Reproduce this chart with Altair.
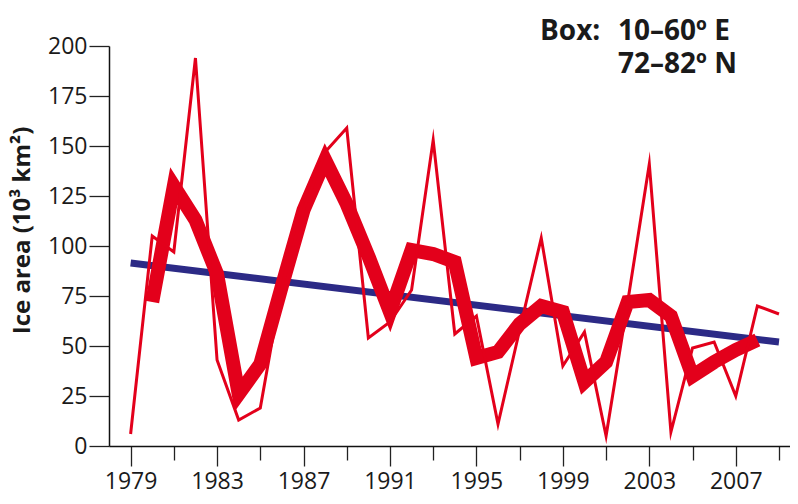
import altair as alt
import pandas as pd

years = list(range(1979, 2010))
annual = [6, 105, 97, 194, 43, 13, 19, 80, 118, 147,
          159, 54, 62, 78, 153, 56, 65, 11, 58, 104,
          40, 57, 5, 72, 141, 7, 49, 52, 25, 70, 66]
smooth_years = list(range(1980, 2009))
smooth = [72, 130, 113, 86, 26, 41, 80, 118, 143, 121,
          95, 67, 98, 96, 92, 44, 47, 61, 70, 67,
          32, 42, 72, 73, 65, 35, 42, 48, 53]
trend_years = [1979, 2009]
trend = [91.5, 52]
y_ticks = [0, 25, 50, 75, 100, 125, 150, 175, 200]
x_ticks = years

RED = "#e3001b"
BLUE = "#2c2a86"
FONT = "Open Sans"
TXT = "#1a1a1a"

df_annual = pd.DataFrame({"year": years, "area": annual})
df_smooth = pd.DataFrame({"year": smooth_years, "area": smooth})
df_trend = pd.DataFrame({"year": trend_years, "area": trend})

xscale = alt.Scale(domain=[1978, 2009.51], nice=False, zero=False)
yscale = alt.Scale(domain=[0, 200], nice=False)

x_axis = alt.Axis(
    values=x_ticks, format="d", title=None, grid=False,
    tickSize={"condition": {"test": "datum.value % 4 == 3", "value": 20}, "value": 14},
    labelExpr="datum.value % 4 == 3 ? datum.label : ''",
    labelPadding=4, labelFlush=False, labelOverlap=False,
    labelFont=FONT, labelFontSize=23, labelColor=TXT,
)
y_axis = alt.Axis(
    values=y_ticks, title="Ice area (10\u00b3 km\u00b2)", grid=False,
    tickSize=20, labelPadding=2,
    labelFont=FONT, labelFontSize=23, labelColor=TXT,
    titleFont=FONT, titleFontSize=24, titleFontWeight="bold", titleColor=TXT,
    titleX=-87, titleY=184, titleAlign="center", titleBaseline="middle", titleAngle=-90,
)

trend_line = alt.Chart(df_trend).mark_line(color=BLUE, strokeWidth=7, strokeCap="butt").encode(
    x=alt.X("year:Q", scale=xscale, axis=x_axis),
    y=alt.Y("area:Q", scale=yscale, axis=y_axis),
)
smooth_line = alt.Chart(df_smooth).mark_line(
    color=RED, strokeWidth=14, strokeJoin="miter", strokeMiterLimit=10, strokeCap="butt"
).encode(
    x=alt.X("year:Q", scale=xscale),
    y=alt.Y("area:Q", scale=yscale),
)
annual_line = alt.Chart(df_annual).mark_line(
    color=RED, strokeWidth=3, strokeJoin="miter", strokeMiterLimit=10
).encode(
    x=alt.X("year:Q", scale=xscale),
    y=alt.Y("area:Q", scale=yscale),
)

box_label = alt.Chart(pd.DataFrame({"t": ["Box:"]})).mark_text(
    font=FONT, fontSize=28, fontWeight="bold", color=TXT, align="left", baseline="alphabetic"
).encode(x=alt.value(431), y=alt.value(-6), text="t:N")
box_lines = alt.Chart(pd.DataFrame({"t": ["10\u201360\u00ba E\n72\u201382\u00ba N"]})).mark_text(
    font=FONT, fontSize=28, fontWeight="bold", color=TXT, align="left", baseline="alphabetic",
    lineBreak="\n", lineHeight=33,
).encode(x=alt.value(509), y=alt.value(-6), text="t:N")

chart = alt.layer(trend_line, smooth_line, annual_line, box_label, box_lines).properties(
    width=681, height=400,
    autosize=alt.AutoSizeParams(type="none"),
    padding={"left": 101, "top": 38, "right": 0, "bottom": 44},
).configure_view(stroke=None).configure_axis(
    domainColor="#111111", domainWidth=1.5, tickColor="#222222", tickWidth=1.3,
)

chart.save("out.html", embed_options={"renderer": "svg", "actions": False})
